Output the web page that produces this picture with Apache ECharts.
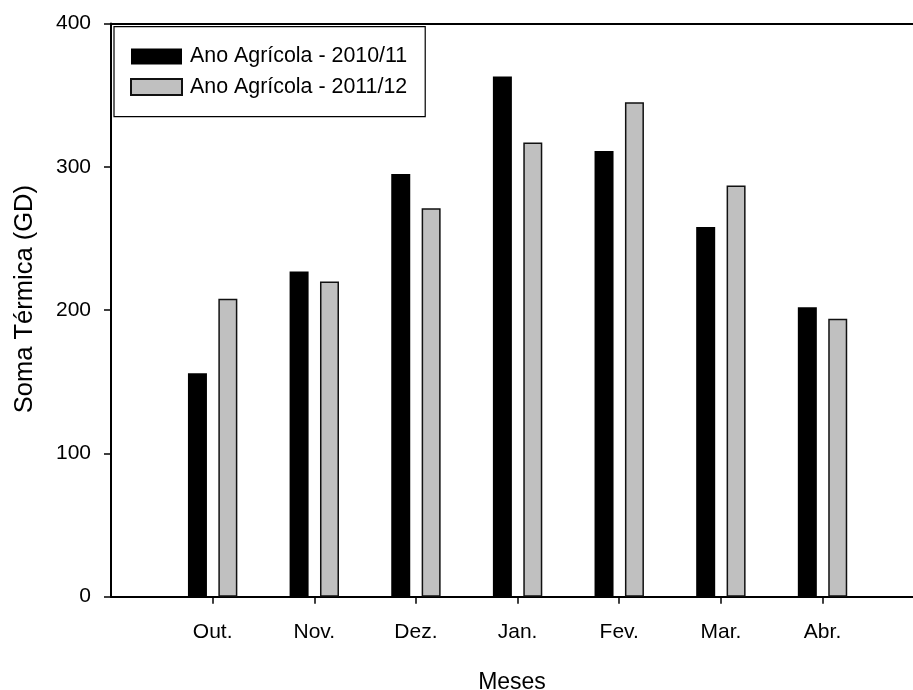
<!DOCTYPE html>
<html>
<head>
<meta charset="utf-8">
<script src="https://cdn.jsdelivr.net/npm/echarts@6/dist/echarts.min.js"></script>
<style>
  html, body { margin: 0; padding: 0; background: #fff; }
  #chart { width: 913px; height: 690px; }
</style>
</head>
<body>
<div id="chart"></div>
<script>
// Monthly thermal sum (degree-days) for two agricultural years
const months = ['Out.', 'Nov.', 'Dez.', 'Jan.', 'Fev.', 'Mar.', 'Abr.'];
const season2010 = [156, 227, 295, 363, 311, 258, 202];
const season2011 = [208, 220, 271, 317, 345, 287, 194];
const yTicks = [0, 100, 200, 300, 400];
const seriesNames = ['Ano Agrícola - 2010/11', 'Ano Agrícola - 2011/12'];

// month positions on a numeric x scale (1..7), leaving room at the left
const monthPos = months.map((m, i) => i + 1);
const pairs = vals => vals.map((v, i) => [monthPos[i], v]);

const FONT = '"Liberation Sans", Arial, sans-serif';

const chart = echarts.init(document.getElementById('chart'), null, { renderer: 'canvas' });

chart.setOption({
  animation: false,
  backgroundColor: '#ffffff',
  textStyle: { fontFamily: FONT, color: '#000' },
  grid: { left: 111, right: 0, top: 23.5, bottom: 93.3, containLabel: false, outerBoundsMode: 'none' },
  legend: {
    orient: 'vertical',
    left: 114,
    top: 26.7,
    padding: [19.2, 18, 19.2, 16],
    itemWidth: 51,
    itemHeight: 16,
    itemGap: 9.6,
    icon: 'rect',
    borderColor: '#000',
    borderWidth: 1.2,
    textStyle: { fontFamily: FONT, fontSize: 21.4, color: '#000', padding: [0, 0, 0, 3] },
    data: seriesNames
  },
  xAxis: [
    {
      type: 'value',
      min: 0,
      max: 7.89,
      interval: 1,
      name: 'Meses',
      nameLocation: 'middle',
      nameGap: 74.5,
      nameTextStyle: { fontFamily: FONT, fontSize: 23, color: '#000' },
      axisLine: { show: true, onZero: false, lineStyle: { color: '#000', width: 2 } },
      axisTick: { show: true, length: 7, inside: false, customValues: monthPos, lineStyle: { color: '#000', width: 1.5 } },
      axisLabel: {
        customValues: monthPos,
        formatter: v => months[Math.round(v) - 1] || '',
        fontFamily: FONT, fontSize: 21, color: '#000', margin: 25
      },
      splitLine: { show: false }
    },
    {
      type: 'value',
      position: 'top',
      min: 0,
      max: 7.89,
      axisLine: { show: true, onZero: false, lineStyle: { color: '#000', width: 2 } },
      axisTick: { show: false },
      axisLabel: { show: false },
      splitLine: { show: false }
    }
  ],
  yAxis: {
    type: 'value',
    min: 0,
    max: 400,
    interval: 100,
    name: 'Soma Térmica (GD)',
    nameLocation: 'middle',
    nameGap: 73,
    nameTextStyle: { fontFamily: FONT, fontSize: 25.5, color: '#000', padding: [0, 0, 0, 22] },
    axisLine: { show: true, onZero: false, lineStyle: { color: '#000', width: 2 } },
    axisTick: { show: true, length: 7, lineStyle: { color: '#000', width: 1.5 } },
    axisLabel: {
      customValues: yTicks,
      fontFamily: FONT, fontSize: 21, color: '#000', margin: 20
    },
    splitLine: { show: false }
  },
  series: [
    {
      name: seriesNames[0],
      type: 'bar',
      xAxisIndex: 0,
      data: pairs(season2010),
      barWidth: 19,
      barGap: '60%',
      itemStyle: { color: '#000000', borderColor: '#000000', borderWidth: 0 }
    },
    {
      name: seriesNames[1],
      type: 'bar',
      xAxisIndex: 0,
      data: pairs(season2011),
      barWidth: 19,
      barGap: '60%',
      itemStyle: { color: '#c0c0c0', borderColor: '#111', borderWidth: 1.5 }
    }
  ]
});
</script>
</body>
</html>
